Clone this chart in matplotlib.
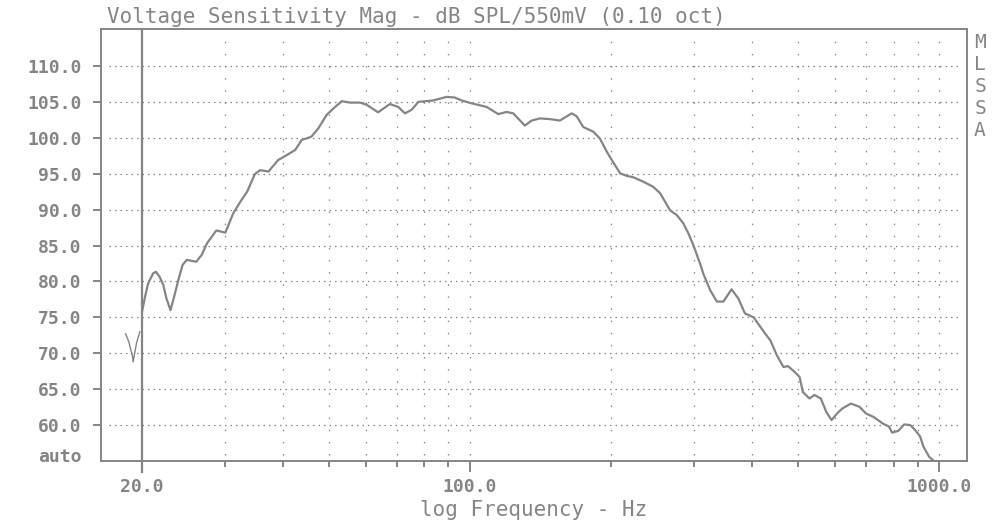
import matplotlib
matplotlib.use('Agg')
import matplotlib.pyplot as plt
import matplotlib.transforms as mtransforms

# Curve data (Hz, dB SPL)
freq_low = [18.45, 18.74, 19.09, 19.14, 19.46, 19.78]
spl_low = [72.7, 71.6, 69.5, 68.8, 71.4, 73.0]

freq = [20.0, 20.3, 20.6, 21.1, 21.4, 21.8, 22.2, 22.55, 23.0, 23.5, 23.9, 24.4,
        24.9, 26.1, 26.8, 27.5, 28.8, 30.1, 31.3, 32.4, 33.5, 34.8, 35.7, 37.2,
        39.0, 40.7, 42.4, 43.8, 45.9, 47.5, 49.5, 51.2, 53.3, 55.5, 58.3, 60.2,
        63.7, 67.5, 70.3, 72.7, 75.1, 77.6, 83.5, 89.2, 92.9, 96.0, 100.8, 108.5,
        114.9, 119.7, 123.7, 130.9, 135.4, 141.0, 148.1, 155.5, 164.7, 168.8, 174.4,
        183.2, 189.2, 195.6, 200.6, 209.0, 215.9, 223.0, 233.9, 245.6, 254.2, 267.1,
        275.9, 284.9, 292.1, 299.2, 309.3, 314.3, 325.0, 336.0, 346.9, 361.1, 373.2,
        385.6, 402.5, 423.1, 436.8, 450.8, 465.7, 476.7, 492.3, 504.3, 512.4, 529.4,
        542.2, 559.8, 574.6, 589.9, 605.6, 621.7, 648.7, 676.4, 698.9, 724.4, 759.3,
        782.0, 793.9, 818.5, 843.0, 868.2, 889.4, 911.2, 926.2, 951.9, 971.4]
spl = [75.8, 77.9, 79.7, 81.1, 81.35, 80.65, 79.5, 77.6, 76.0, 78.3, 80.2, 82.3,
       83.0, 82.75, 83.7, 85.3, 87.1, 86.8, 89.5, 91.1, 92.5, 94.96, 95.5, 95.3,
       96.9, 97.6, 98.3, 99.7, 100.15, 101.3, 103.2, 104.1, 105.1, 104.9, 104.9, 104.6,
       103.55, 104.7, 104.3, 103.4, 103.9, 105.0, 105.2, 105.7, 105.6, 105.2, 104.8, 104.3,
       103.3, 103.6, 103.4, 101.7, 102.4, 102.7, 102.6, 102.4, 103.4, 103.0, 101.5,
       100.85, 99.9, 98.1, 96.9, 95.05, 94.7, 94.5, 93.9, 93.2, 92.3, 89.9,
       89.25, 88.1, 86.7, 85.1, 82.5, 81.1, 78.8, 77.2, 77.2, 78.9, 77.65,
       75.55, 75.0, 73.0, 71.8, 69.75, 68.1, 68.2, 67.4, 66.7, 64.6, 63.7,
       64.2, 63.7, 61.85, 60.7, 61.6, 62.3, 63.0, 62.55, 61.6, 61.15, 60.2,
       59.8, 58.95, 59.2, 60.1, 60.0, 59.3, 58.4, 57.0, 55.6, 55.1]

# Axis ticks and labels
y_ticks = [60, 65, 70, 75, 80, 85, 90, 95, 100, 105, 110]
y_labels = ['60.0', '65.0', '70.0', '75.0', '80.0', '85.0', '90.0', '95.0',
            '100.0', '105.0', '110.0']
x_major = [20, 100, 1000]
x_major_labels = ['20.0', '100.0', '1000.0']
x_minor = [30, 40, 50, 60, 70, 80, 90, 200, 300, 400, 500, 600, 700, 800, 900]
x_grid = [30, 40, 50, 60, 70, 80, 90, 100, 200, 300, 400, 500, 600, 700, 800, 900, 1000]

gray = '#858585'
mono = ['DejaVu Sans Mono']

fig = plt.figure(figsize=(10.02, 5.23), dpi=100)
ax = fig.add_axes([0.1008, 0.1185, 0.8643, 0.8261])
ax.set_xscale('log')
ax.set_xlim(16.35, 1147)
ax.set_ylim(55.0, 115.15)

# dotted grid
ax.hlines(y_ticks, 17.0, 1100, colors=gray, linewidth=0.9, linestyles=(0, (1.2, 3.2)))
ax.vlines(x_grid, 55.8, 114.2, colors=gray, linewidth=0.9, linestyles=(0, (1.2, 8.5)))

# solid marker line at 20 Hz
ax.axvline(20, color=gray, linewidth=1.6, clip_on=False, ymin=-0.025)

# response curve
ax.plot(freq_low, spl_low, color=gray, linewidth=1.0)
ax.plot(freq, spl, color=gray, linewidth=1.6, clip_on=True)

for s in ax.spines.values():
    s.set_color(gray)
    s.set_linewidth(1.4)

ax.set_xticks(x_major)
ax.set_xticklabels(x_major_labels)
ax.set_xticks(x_minor, minor=True)
ax.set_xticklabels([], minor=True)
ax.tick_params(axis='x', which='major', direction='out', length=8, width=1.4,
               color=gray, labelcolor=gray, labelsize=13, pad=4)
ax.tick_params(axis='x', which='minor', direction='out', length=4.5, width=1.4,
               color=gray)

ax.set_yticks(y_ticks)
ax.set_yticklabels(y_labels)
ax.yaxis.set_minor_locator(plt.NullLocator())
ax.tick_params(axis='y', which='major', direction='out', length=6, width=1.4,
               color=gray, labelcolor=gray, labelsize=13, pad=8)
for lab in ax.get_xticklabels() + ax.get_yticklabels():
    lab.set_family(mono)
    lab.set_fontweight('bold')

# "auto" label at the bottom of the y axis
trans = mtransforms.blended_transform_factory(fig.transFigure, ax.transData)
ax.text(82 / 1002, 55.6, 'auto', transform=trans, ha='right', va='center',
        color=gray, fontsize=13, family=mono, fontweight='bold')

# title and axis label
fig.text(107 / 1002, 1 - 17 / 523, 'Voltage Sensitivity Mag - dB SPL/550mV (0.10 oct)',
         ha='left', va='center', color=gray, fontsize=15, family=mono)
fig.text(534 / 1002, 1 - 510 / 523, 'log Frequency - Hz', ha='center', va='center',
         color=gray, fontsize=15, family=mono)

# vertical MLSSA tag
for i, ch in enumerate('MLSSA'):
    fig.text(980 / 1002, 1 - (43 + 22 * i) / 523, ch, ha='center', va='center',
             color=gray, fontsize=14, family=mono)

fig.savefig('out.png', dpi=100, facecolor='white')
